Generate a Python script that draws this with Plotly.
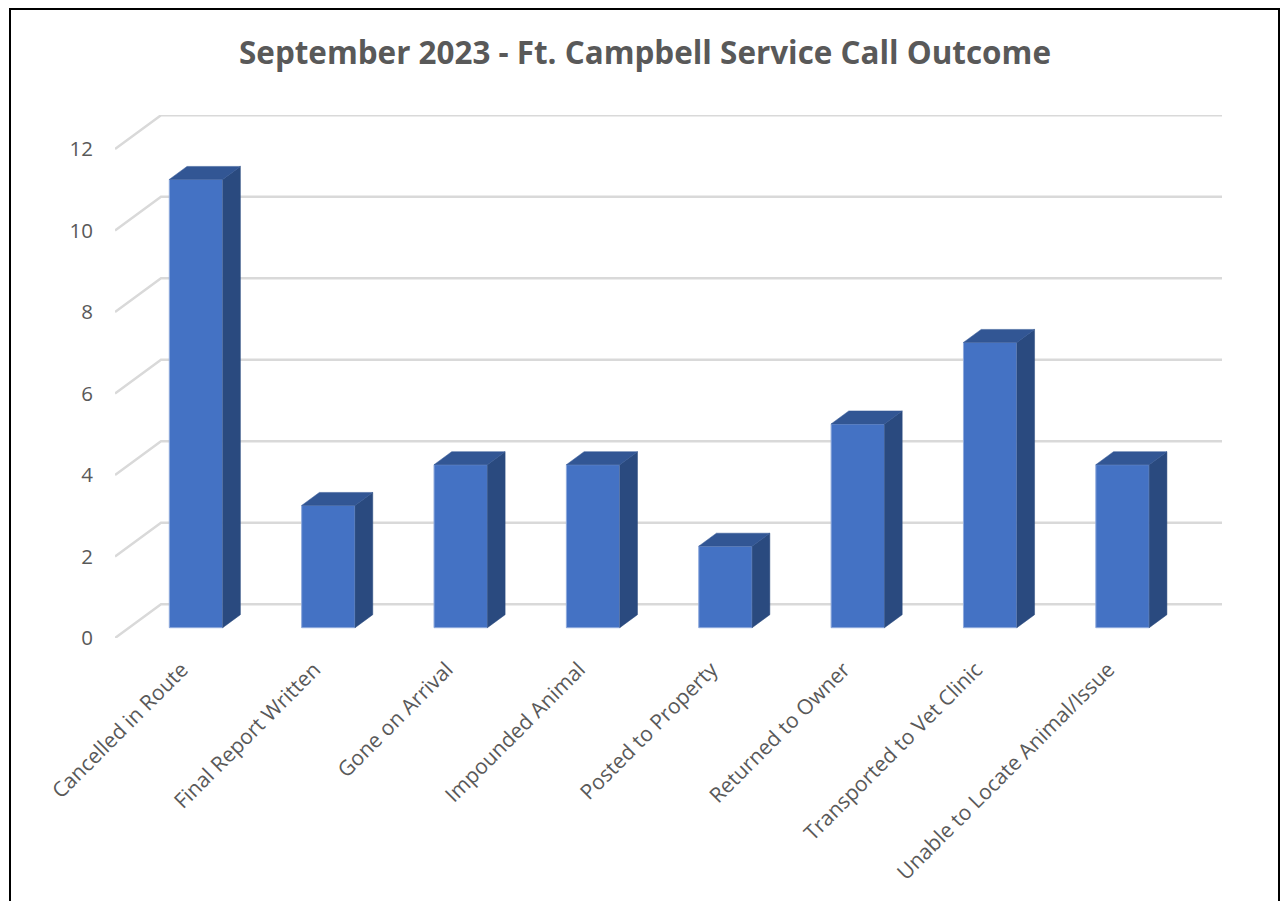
import plotly.graph_objects as go

categories = ["Cancelled in Route", "Final Report Written", "Gone on Arrival", "Impounded Animal",
              "Posted to Property", "Returned to Owner", "Transported to Vet Clinic",
              "Unable to Locate Animal/Issue"]
values = [11, 3, 4, 4, 2, 5, 7, 4]
y_ticks = [0, 2, 4, 6, 8, 10, 12]
title = "September 2023 - Ft. Campbell Service Call Outcome"

W, H = 1280, 901
L, R, T, B = 115, 1222, 115, 637.6
PITCH, UNIT = 132.36, 40.72
X0 = 196.0

xr = [(L - X0) / PITCH, (R - X0) / PITCH]
yr = [0, (B - T) / UNIT]

WALL_DX, WALL_DY = 46 / PITCH, 33.7 / UNIT
BAR_W = 53.4 / PITCH
BAR_BASE = 10.3 / UNIT
DEPTH_DX, DEPTH_DY = 17.7 / PITCH, 13 / UNIT
LABEL_SHIFT = 14 / PITCH

FRONT, SIDE, TOP, GRID, TEXT = "#4472C4", "#2A4A7F", "#325694", "#D9D9D9", "#595959"

fig = go.Figure()
xs = list(range(len(categories)))

fig.add_trace(go.Bar(x=xs, y=values, base=BAR_BASE, width=BAR_W,
                     marker=dict(color=FRONT, line=dict(color="#8FAADC", width=1)),
                     hoverinfo="skip"))
for i, v in zip(xs, values):
    right, left = i + BAR_W / 2, i - BAR_W / 2
    top = v + BAR_BASE
    fig.add_trace(go.Scatter(
        x=[right, right + DEPTH_DX, right + DEPTH_DX, right, right],
        y=[BAR_BASE, BAR_BASE + DEPTH_DY, top + DEPTH_DY, top, BAR_BASE],
        mode="lines", fill="toself", fillcolor=SIDE, line=dict(color=SIDE, width=0.5),
        hoverinfo="skip"))
    fig.add_trace(go.Scatter(
        x=[left, left + DEPTH_DX, right + DEPTH_DX, right, left],
        y=[top, top + DEPTH_DY, top + DEPTH_DY, top, top],
        mode="lines", fill="toself", fillcolor=TOP, line=dict(color=TOP, width=0.5),
        hoverinfo="skip"))

shapes = []
for t in y_ticks:
    shapes.append(dict(type="path", xref="x", yref="y", layer="below",
                       path=f"M {xr[0]} {t} L {xr[0] + WALL_DX} {t + WALL_DY} L {xr[1]} {t + WALL_DY}",
                       line=dict(color=GRID, width=2.5)))

# outer frame of the picture (open at the bottom)
pw, ph = R - L, B - T
def px(x): return (x - L) / pw
def py(y): return (B - y) / ph
shapes.append(dict(type="path", xref="paper", yref="paper", layer="above",
                   path=f"M {px(10)} {py(901)} L {px(10)} {py(9)} L {px(1279)} {py(9)} L {px(1279)} {py(901)}",
                   line=dict(color="#000000", width=2)))

fig.update_layout(
    width=W, height=H, autosize=False,
    margin=dict(l=L, r=W - R, t=T, b=H - B, pad=0),
    paper_bgcolor="white", plot_bgcolor="white", showlegend=False,
    font=dict(family="Open Sans", color=TEXT),
    title=dict(text=title, x=645 / W, xanchor="center", y=1 - 53 / H, yanchor="middle",
               font=dict(family="Open Sans", size=31.4, color=TEXT, weight="bold")),
    shapes=shapes,
    xaxis=dict(range=xr, tickvals=[x - LABEL_SHIFT for x in xs], ticktext=categories, tickangle=-45,
               showgrid=False, zeroline=False, showline=False, ticks="outside", ticklen=10,
               tickcolor="rgba(0,0,0,0)", tickfont=dict(size=21, color=TEXT)),
    yaxis=dict(range=yr, tickvals=y_ticks, showgrid=False, zeroline=False, showline=False,
               ticks="outside", ticklen=17, tickcolor="rgba(0,0,0,0)",
               tickfont=dict(size=20.5, color=TEXT)),
)

fig.write_html("out.html", config={"displayModeBar": False},
               post_script="document.body.style.margin='0';")
